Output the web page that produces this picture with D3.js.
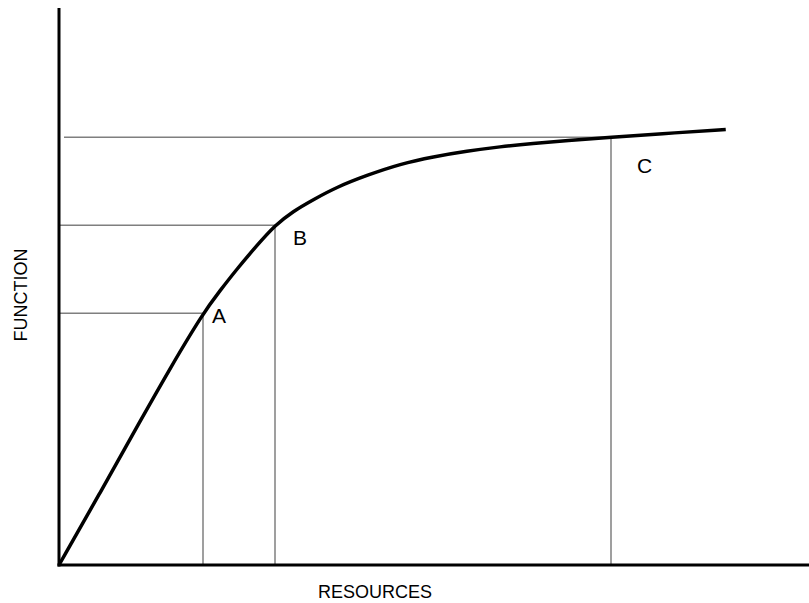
<!DOCTYPE html>
<html>
<head>
<meta charset="utf-8">
<script src="https://d3js.org/d3.v7.min.js"></script>
<style>
  body { margin: 0; background: #fff; }
  text { font-family: "Liberation Sans", Arial, sans-serif; fill: #000; }
</style>
</head>
<body>
<div id="chart"></div>
<script>
// curve, in abstract units (0-100 on both axes)
const curveX = [0, 5.5, 10.8, 14.8, 19.2, 21.5, 23.7, 26.4, 28.8, 31.2, 33.9, 37.1, 41.1, 45.5, 49.9, 54.4, 58.8, 63.2, 67.7, 73.6, 80.1, 88.9];
const curveY = [0, 13.0, 25.8, 35.3, 45.2, 49.3, 53.1, 57.4, 61.0, 63.5, 65.6, 67.9, 70.0, 72.0, 73.3, 74.3, 75.1, 75.7, 76.2, 76.8, 77.4, 78.2];

const pointNames = ["A", "B", "C"];
const pointX = [19.2, 28.8, 73.6];
const pointY = [45.2, 61.0, 76.8];

const xLabel = "RESOURCES";
const yLabel = "FUNCTION";

const width = 809, height = 603;
const margin = { top: 8, right: 0, bottom: 38, left: 59 };

const x = d3.scaleLinear().domain([0, 100]).range([margin.left, width - margin.right]);
const y = d3.scaleLinear().domain([0, 100]).range([height - margin.bottom, margin.top]);

const svg = d3.select("#chart")
    .append("svg")
    .attr("width", width)
    .attr("height", height);

const curve = curveX.map((d, i) => ({ x: d, y: curveY[i] }));
const points = pointNames.map((d, i) => ({ name: d, x: pointX[i], y: pointY[i] }));

// label nudges (px) and where the horizontal guide starts
const labelOffset = [[9, 10], [18, 20], [26, 36]];
const guideStart = [1, 1, 5];

// guide lines
svg.append("g")
    .attr("stroke", "#7f7f7f")
    .attr("stroke-width", 1.5)
    .selectAll("g")
    .data(points)
    .join("g")
    .call(g => g.append("line")
        .attr("x1", (d, i) => x(0) + guideStart[i])
        .attr("x2", d => x(d.x))
        .attr("y1", d => y(d.y))
        .attr("y2", d => y(d.y)))
    .call(g => g.append("line")
        .attr("x1", d => x(d.x))
        .attr("x2", d => x(d.x))
        .attr("y1", d => y(d.y))
        .attr("y2", y(0)));

// axes
svg.append("line")
    .attr("x1", x(0)).attr("x2", x(0))
    .attr("y1", y(100)).attr("y2", y(0) + 1.5)
    .attr("stroke", "#000").attr("stroke-width", 3);

svg.append("line")
    .attr("x1", x(0) - 1.5).attr("x2", x(100))
    .attr("y1", y(0)).attr("y2", y(0))
    .attr("stroke", "#000").attr("stroke-width", 3);

// the curve (b-spline smooths out reading noise)
const line = d3.line()
    .x(d => x(d.x))
    .y(d => y(d.y))
    .curve(d3.curveBasis);

svg.append("path")
    .datum(curve)
    .attr("fill", "none")
    .attr("stroke", "#000")
    .attr("stroke-width", 3.5)
    .attr("stroke-linejoin", "round")
    .attr("d", line);

// point labels
svg.append("g")
    .selectAll("text")
    .data(points)
    .join("text")
    .attr("x", (d, i) => x(d.x) + labelOffset[i][0])
    .attr("y", (d, i) => y(d.y) + labelOffset[i][1])
    .attr("font-size", 21)
    .text(d => d.name);

// axis titles
svg.append("text")
    .attr("x", 375)
    .attr("y", 598)
    .attr("text-anchor", "middle")
    .attr("font-size", 18)
    .text(xLabel);

svg.append("text")
    .attr("transform", "translate(26.5,295) rotate(-90)")
    .attr("text-anchor", "middle")
    .attr("font-size", 18)
    .text(yLabel);
</script>
</body>
</html>
